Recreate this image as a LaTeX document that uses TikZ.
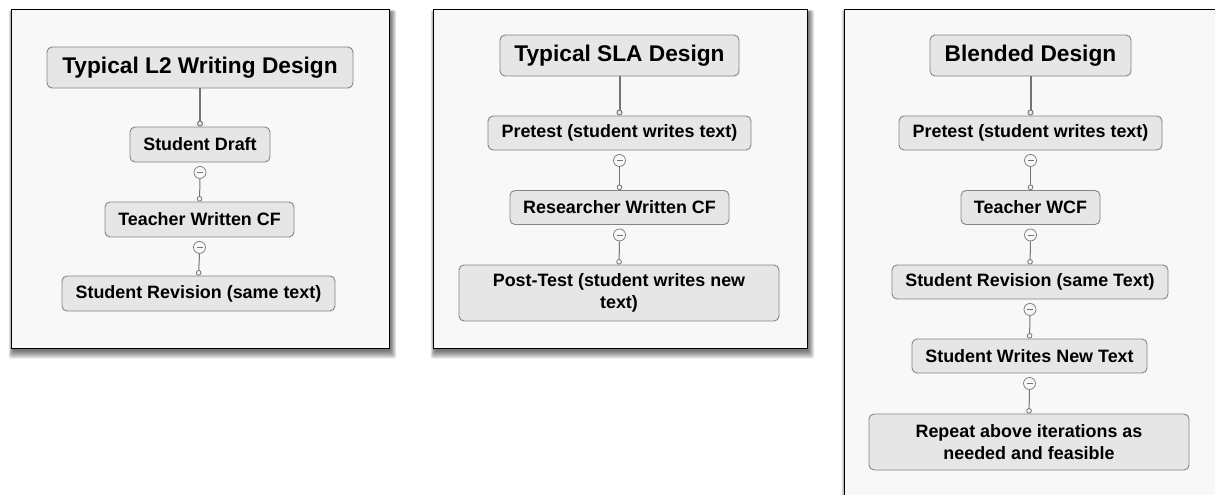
\documentclass[tikz,border=0pt]{standalone}
\usepackage{fontspec}
\setmainfont{Liberation Sans}
\usetikzlibrary{arrows.meta}
\definecolor{boxfill}{HTML}{E6E6E6}
\definecolor{boxline}{HTML}{858585}
\definecolor{panelfill}{HTML}{F8F8F8}
\definecolor{linkline}{HTML}{747474}
\tikzset{
  stepbox/.style={draw=boxline, fill=boxfill, rounded corners=5pt, line width=0.9pt,
    inner sep=0pt, align=center, text=black,
    font=\bfseries\fontsize{17.9}{21.5}\selectfont},
  titlebox/.style={stepbox, font=\bfseries\fontsize{22.7}{26}\selectfont},
  knob/.style={circle, draw=linkline, fill=panelfill, line width=0.7pt,
    minimum size=12pt, inner sep=0pt,
    path picture={\draw[linkline, line width=0.9pt]
      ([xshift=3pt]path picture bounding box.west) -- ([xshift=-3pt]path picture bounding box.east);}},
  mainlink/.style={draw=linkline, line width=2pt,
    -{Circle[open, length=6pt, line width=0.9pt, fill=boxfill]}},
  sublink/.style={draw=linkline, line width=1pt,
    -{Circle[open, length=5.5pt, line width=0.8pt, fill=panelfill]}},
  panel/.style={draw=black, line width=0.9pt, fill=panelfill}
}
\newcommand{\panelshadow}[4]{%
  \foreach \k in {0,...,7}{
    \fill[black, opacity=0.085, rounded corners=2pt]
      (#1+2-\k*0.6, #2+3-\k*0.3) rectangle (#3+1.5+\k*0.8, #4+3+\k*1.1);
  }}
\begin{document}
\begin{tikzpicture}[x=1pt, y=-1pt]
\useasboundingbox (0,0) rectangle (1215,495);
\clip (0,0) rectangle (1215,495);
\fill[white] (0,0) rectangle (1215,495);

% panel frames with soft shadows
\panelshadow{11}{9}{389}{348}
\panelshadow{433}{9}{807}{348}
\panelshadow{844}{9}{1230}{520}
\draw[panel] (11,9) rectangle (389,348);
\draw[panel] (433,9) rectangle (807,348);
\draw[panel] (844,9) rectangle (1230,520);

% Typical L2 writing design
\node[titlebox, minimum width=306pt, minimum height=41pt] (t1) at (200,67.5) {Typical L2 Writing Design};
\node[stepbox, minimum width=140pt, minimum height=35pt] (a1) at (200,144.5) {Student Draft};
\node[stepbox, minimum width=189pt, minimum height=35pt] (b1) at (199.5,219.5) {Teacher Written CF};
\node[stepbox, minimum width=273pt, minimum height=35pt] (c1) at (198.5,293.5) {Student Revision (same text)};
\node[knob] (k1a) at ([yshift=-10pt]a1.south) {};
\node[knob] (k1b) at ([yshift=-10pt]b1.south) {};
\draw[mainlink] (t1.south) -- (a1.north);
\draw[sublink] (k1a.south) -- (b1.north);
\draw[sublink] (k1b.south) -- (c1.north);

% Typical SLA design
\node[titlebox, minimum width=239pt, minimum height=41pt] (t2) at (619.5,55.5) {Typical SLA Design};
\node[stepbox, minimum width=263pt, minimum height=34pt] (a2) at (619.5,133) {Pretest (student writes text)};
\node[stepbox, minimum width=219pt, minimum height=34pt] (b2) at (619.5,207.5) {Researcher Written CF};
\node[stepbox, minimum width=320pt, minimum height=56pt] (c2) at (619,293) {Post-Test (student writes new\\text)};
\node[knob] (k2a) at ([yshift=-10pt]a2.south) {};
\node[knob] (k2b) at ([yshift=-10pt]b2.south) {};
\draw[mainlink] (t2.south) -- (a2.north);
\draw[sublink] (k2a.south) -- (b2.north);
\draw[sublink] (k2b.south) -- (c2.north);

% Blended design
\node[titlebox, minimum width=201pt, minimum height=41pt] (t3) at (1030.5,55.5) {Blended Design};
\node[stepbox, minimum width=263pt, minimum height=34pt] (a3) at (1030.5,133) {Pretest (student writes text)};
\node[stepbox, minimum width=139pt, minimum height=34pt] (b3) at (1030.5,207.5) {Teacher WCF};
\node[stepbox, minimum width=276pt, minimum height=34pt] (c3) at (1030,282) {Student Revision (same Text)};
\node[stepbox, minimum width=235pt, minimum height=34pt] (d3) at (1029.5,356) {Student Writes New Text};
\node[stepbox, minimum width=320pt, minimum height=56pt] (e3) at (1029,442) {Repeat above iterations as\\needed and feasible};
\node[knob] (k3a) at ([yshift=-10pt]a3.south) {};
\node[knob] (k3b) at ([yshift=-10pt]b3.south) {};
\node[knob] (k3c) at ([yshift=-10pt]c3.south) {};
\node[knob] (k3d) at ([yshift=-10pt]d3.south) {};
\draw[mainlink] (t3.south) -- (a3.north);
\draw[sublink] (k3a.south) -- (b3.north);
\draw[sublink] (k3b.south) -- (c3.north);
\draw[sublink] (k3c.south) -- (d3.north);
\draw[sublink] (k3d.south) -- (e3.north);
\end{tikzpicture}
\end{document}
